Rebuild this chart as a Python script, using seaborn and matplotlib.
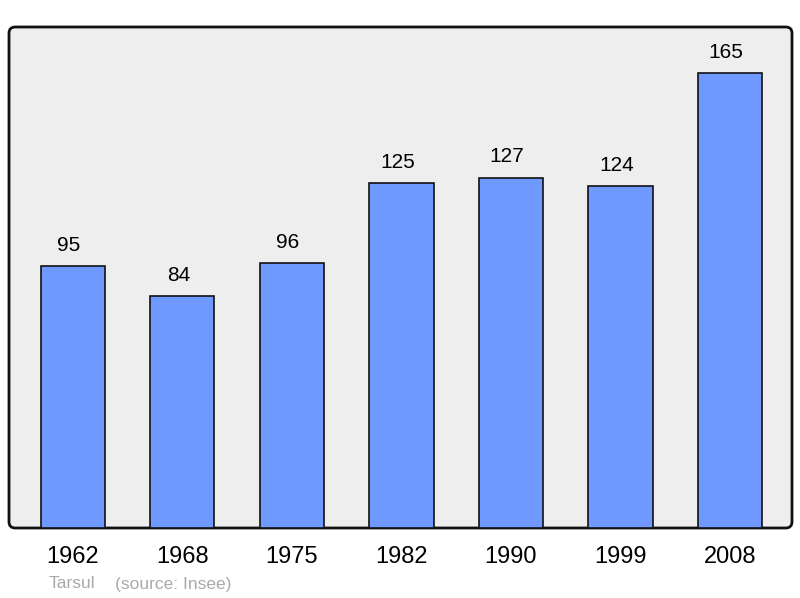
import matplotlib
matplotlib.use("Agg")
import matplotlib.pyplot as plt
from matplotlib.patches import FancyBboxPatch
import seaborn as sns
import pandas as pd

# population data
years = ["1962", "1968", "1975", "1982", "1990", "1999", "2008"]
population = [95, 84, 96, 125, 127, 124, 165]

df = pd.DataFrame({"year": years, "pop": population})

sns.set_style("white")
plt.rcParams["font.family"] = ["Liberation Sans", "DejaVu Sans"]

fig = plt.figure(figsize=(8, 5.98), dpi=100)
ax = fig.add_axes([9 / 800, 1 - 528 / 598, 783 / 800, 501 / 598])

# rounded background frame
ax.patch.set_visible(False)
for s in ax.spines.values():
    s.set_visible(False)
frame = FancyBboxPatch((0, 0), 1, 1, boxstyle="round,pad=0,rounding_size=0.008",
                       mutation_aspect=783 / 501, transform=ax.transAxes,
                       facecolor="#eeeeee", edgecolor="#111111", linewidth=2,
                       zorder=0, clip_on=False)
ax.add_patch(frame)

sns.barplot(data=df, x="year", y="pop", color="#7099ff", saturation=1,
            width=0.585, edgecolor="#111111", linewidth=1.2, ax=ax, zorder=2)

ax.set_xlim(-0.584, 6.566)
ax.set_ylim(0, 181.7)
ax.set_yticks([])
ax.set_xlabel("")
ax.set_ylabel("")
ax.tick_params(axis="x", length=0, pad=13, labelsize=17, labelcolor="black")

# value labels
for i, v in enumerate(population):
    ax.annotate(str(v), (i, v), xytext=(-3, 15), textcoords="offset points",
                ha="center", va="center", fontsize=15, color="black")

fig.text(49 / 800, 1 - 584 / 598, "Tarsul", color="#aaaaaa", fontsize=12.5, va="center")
fig.text(115 / 800, 1 - 584 / 598, "(source: Insee)", color="#aaaaaa", fontsize=12.5, va="center")

fig.savefig("out.png", dpi=100)
